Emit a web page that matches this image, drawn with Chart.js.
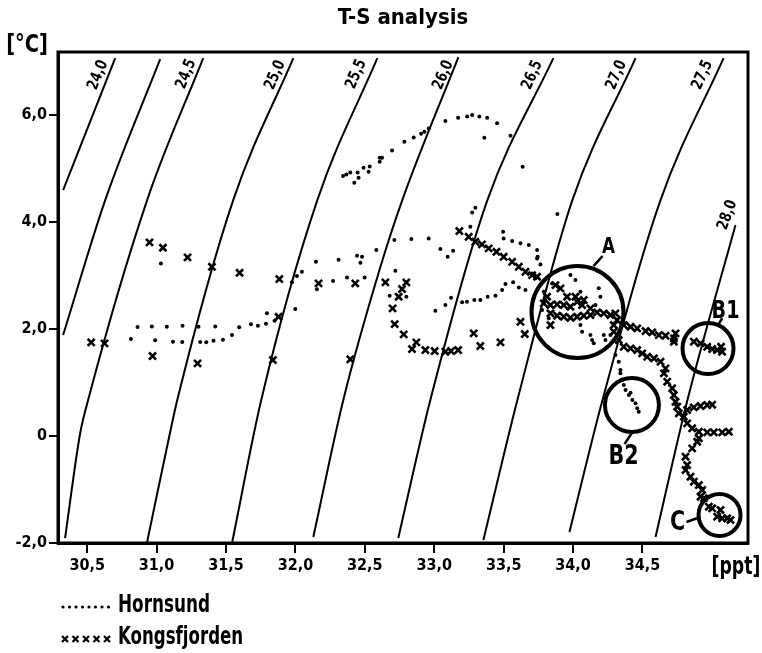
<!DOCTYPE html>
<html>
<head>
<meta charset="utf-8">
<script src="https://cdn.jsdelivr.net/npm/chart.js@4.4.1/dist/chart.umd.min.js"></script>
<style>
html,body{margin:0;padding:0;background:#fff;}
#wrap{width:762px;height:653px;position:relative;}
</style>
</head>
<body>
<div id="wrap"><canvas id="c" width="762" height="653"></canvas></div>
<script>
// ---------- data ----------
const xTickValues = [30.5, 31.0, 31.5, 32.0, 32.5, 33.0, 33.5, 34.0, 34.5];
const yTickValues = [-2, 0, 2, 4, 6];

const hornsundS = [32.343,32.367,32.395,32.424,32.455,32.448,32.491,32.535,32.527,32.607,32.624,32.607,32.696,32.785,32.852,32.905,32.929,32.960,33.080,33.172,33.237,33.273,33.325,33.381,33.453,33.549,33.361,33.637,33.296,33.273,33.496,33.887,
31.031,30.863,30.966,31.074,31.187,31.302,31.423,31.595,31.680,31.730,31.788,31.795,31.850,31.999,30.815,30.990,31.118,31.185,31.314,31.358,31.410,31.478,31.543,31.975,32.011,32.047,32.148,32.311,32.155,32.271,
32.372,32.444,32.480,32.468,32.499,32.583,32.713,32.835,32.960,33.044,33.097,33.136,32.720,32.679,32.799,33.008,33.080,33.121,33.201,33.236,33.289,33.332,33.385,33.441,33.489,33.513,33.568,33.609,33.657,33.500,33.561,33.621,33.681,33.741,33.741,33.260,
33.745,33.765,33.705,33.729,33.981,34.017,34.053,34.185,34.197,34.161,34.053,34.065,34.125,34.137,34.149,34.221,34.233,34.269,33.849,33.789,33.777,33.825,34.305,34.329,34.341,
34.341,34.354,34.365,34.378,34.414,34.402,34.427,34.450,34.462,34.473];
const hornsundT = [4.860,4.892,4.929,4.735,4.828,4.929,5.015,5.041,4.940,5.202,5.202,5.127,5.340,5.501,5.583,5.650,5.688,5.751,5.888,5.950,5.976,6.000,5.976,5.950,5.850,5.613,5.576,5.034,4.267,4.181,3.819,4.150,
3.228,2.037,2.050,2.043,2.062,2.043,2.050,2.032,2.088,2.062,2.099,2.294,2.155,2.374,1.813,1.789,1.763,1.757,1.757,1.751,1.781,1.800,1.888,2.873,2.991,3.071,3.258,3.295,2.742,2.897,
2.966,3.370,3.351,3.239,2.966,3.477,3.664,3.682,3.695,3.495,3.351,3.464,3.090,2.622,2.604,2.342,2.449,2.585,2.499,2.510,2.542,2.542,2.604,2.622,2.729,2.841,2.873,2.779,2.729,3.695,3.645,3.602,3.570,3.477,3.321,3.912,
3.351,3.209,3.041,2.948,3.009,2.916,2.697,2.761,2.604,2.449,2.075,1.950,1.888,1.794,1.733,1.888,1.794,1.888,2.854,2.697,2.355,2.200,1.514,1.389,1.234,
1.172,1.047,0.953,0.860,0.809,0.766,0.673,0.611,0.518,0.454];

const kongsS = [30.949,31.046,31.223,31.399,31.598,31.884,32.167,31.879,30.529,30.625,30.971,31.295,31.838,
33.181,33.248,33.296,33.344,33.392,33.448,33.500,33.561,33.609,33.657,33.705,33.741,
32.431,32.648,32.799,32.768,32.744,32.700,32.715,32.780,32.871,32.840,32.936,33.003,33.080,33.121,33.172,33.284,33.332,33.477,33.621,33.652,32.395,
33.789,33.837,33.885,33.933,33.981,34.029,34.077,34.065,34.125,34.173,34.221,34.269,34.305,34.317,34.293,33.837,33.885,33.933,33.981,34.029,34.077,34.125,33.837,33.909,33.957,34.017,33.813,33.873,
34.365,34.414,34.462,34.522,34.570,34.618,34.666,34.726,34.738,34.726,
34.870,34.918,34.966,35.002,35.038,35.074,35.066,
34.293,34.329,34.365,34.414,34.462,34.498,34.534,34.582,34.630,34.666,
34.654,34.678,34.714,34.726,34.738,34.750,34.762,34.798,34.822,34.870,34.918,34.966,35.002,34.822,34.858,34.906,34.966,35.014,35.074,35.122,34.906,34.894,34.858,34.810,34.822,34.810,34.846,34.870,34.906,34.930,34.918,34.942,
34.978,35.002,35.062,35.038,35.074,35.110,35.134];
const kongsT = [3.621,3.520,3.340,3.164,3.052,2.935,2.854,2.230,1.751,1.733,1.495,1.359,1.421,
3.832,3.725,3.632,3.583,3.508,3.445,3.351,3.258,3.164,3.071,3.009,2.978,
2.854,2.873,2.873,2.748,2.604,2.387,2.093,1.901,1.751,1.626,1.607,1.589,1.576,1.589,1.607,1.920,1.682,1.751,2.136,1.907,1.434,
2.480,2.449,2.462,2.449,2.417,2.510,2.542,2.449,2.387,2.312,2.293,2.262,2.293,2.168,2.075,2.293,2.249,2.230,2.211,2.230,2.249,2.262,2.075,2.761,2.604,2.604,2.604,2.822,
2.075,2.043,2.013,1.963,1.938,1.888,1.875,1.826,1.920,1.763,
1.763,1.733,1.669,1.626,1.607,1.576,1.669,
1.950,1.794,1.669,1.639,1.607,1.546,1.482,1.452,1.389,1.265,
1.172,1.015,0.892,0.766,0.641,0.548,0.424,0.361,0.486,0.536,0.561,0.579,0.585,0.237,0.144,0.080,0.069,0.069,0.069,0.080,-0.043,-0.107,-0.230,-0.387,-0.542,-0.636,-0.761,-0.854,-0.916,-1.009,-1.135,-1.164,
-1.321,-1.351,-1.383,-1.508,-1.538,-1.538,-1.570];

// isopycnals (sigma-t)
const iso240S = [30.327, 30.702];                      const iso240T = [4.598, 7.065];
const iso2425S = [30.327, 30.630, 31.026];             const iso2425T = [1.888, 4.411, 7.047];
const iso245S = [30.341, 30.450, 30.507, 30.932, 31.336]; const iso245T = [-1.907, 0.056, 0.673, 4.411, 7.065];
const iso250S = [30.932, 31.098, 31.149, 31.552, 31.985]; const iso250T = [-1.980, 0.075, 0.673, 4.411, 7.065];
const iso255S = [31.545, 31.754, 32.158, 32.590];      const iso255T = [-1.980, 0.673, 4.411, 7.065];
const iso260S = [32.129, 32.345, 32.612, 32.770, 33.174]; const iso260T = [-1.888, 0.673, 3.159, 4.411, 7.084];
const iso265S = [32.741, 32.972, 33.383, 33.858];      const iso265T = [-1.907, 0.673, 4.411, 7.065];
const iso270S = [33.354, 33.599, 33.995, 34.450];      const iso270T = [-1.944, 0.673, 4.411, 7.065];
const iso275S = [33.974, 34.212, 34.630, 35.084];      const iso275T = [-1.794, 0.673, 4.411, 7.065];
const iso280S = [34.594, 34.824, 35.170];              const iso280T = [-1.888, 0.673, 3.944];

const isoLabels = ['24,0', '24,5', '25,0', '25,5', '26,0', '26,5', '27,0', '27,5', '28,0'];

// ---------- helpers ----------
const FONT = '"DejaVu Sans Condensed", "DejaVu Sans", sans-serif';
const pts = (S, T) => S.map((s, i) => ({x: s, y: T[i]}));
const fmt = v => (Math.abs(v) < 1e-9 ? '0' : v.toFixed(1).replace('.', ','));

const isoCurves = [
  [iso240S, iso240T], [iso2425S, iso2425T], [iso245S, iso245T], [iso250S, iso250T],
  [iso255S, iso255T], [iso260S, iso260T], [iso265S, iso265T], [iso270S, iso270T],
  [iso275S, iso275T], [iso280S, iso280T]
];

const isoDatasets = isoCurves.map(([S, T], i) => ({
  label: 'iso' + i,
  data: pts(S, T),
  showLine: true,
  borderColor: '#000',
  borderWidth: 2,
  pointRadius: 0,
  cubicInterpolationMode: 'monotone',
  fill: false,
  order: 5
}));

const isoLabelPos = [
  {x: 30.579, y: 6.748, r: -68}, {x: 31.214, y: 6.766, r: -68}, {x: 31.855, y: 6.748, r: -67},
  {x: 32.439, y: 6.766, r: -67}, {x: 33.066, y: 6.748, r: -67}, {x: 33.707, y: 6.748, r: -67},
  {x: 34.313, y: 6.748, r: -67}, {x: 34.933, y: 6.748, r: -66}, {x: 35.113, y: 4.131, r: -70}
];

const annotations = [
  {cx: 34.032, cy: 2.318, r: 46, text: 'A',  tx: 34.255, ty: 3.533, size: 22, l: [34.147, 3.178, 34.212, 3.365]},
  {cx: 34.972, cy: 1.636, r: 25.5, text: 'B1', tx: 35.098, ty: 2.336, size: 25, l: [35.045, 2.075, 35.074, 2.206]},
  {cx: 34.424, cy: 0.579, r: 27, text: 'B2', tx: 34.363, ty: -0.393, size: 27, l: [34.428, 0.075, 34.371, -0.150]},
  {cx: 35.055, cy: -1.477, r: 21, text: 'C',  tx: 34.752, ty: -1.626, size: 27, l: [34.817, -1.607, 34.918, -1.514]}
];

// draw text squeezed horizontally (the original face is narrower than any installed one)
function squeezedText(ctx, text, x, y, size, sx, align) {
  ctx.save();
  ctx.font = 'bold ' + size + 'px ' + FONT;
  ctx.textAlign = align || 'center';
  ctx.textBaseline = 'middle';
  ctx.translate(x, y);
  ctx.scale(sx, 1);
  ctx.fillText(text, 0, 0);
  ctx.restore();
}

const overlay = {
  id: 'overlay',
  afterDatasetsDraw(chart) {
    const {ctx, chartArea: a, scales: {x, y}} = chart;
    ctx.save();
    ctx.strokeStyle = '#000';
    ctx.fillStyle = '#000';
    ctx.lineWidth = 3;
    ctx.strokeRect(a.left, a.top, a.right - a.left, a.bottom - a.top);
    // isopycnal labels
    isoLabels.forEach((t, i) => {
      const p = isoLabelPos[i];
      ctx.save();
      ctx.translate(x.getPixelForValue(p.x), y.getPixelForValue(p.y));
      ctx.rotate(p.r * Math.PI / 180);
      squeezedText(ctx, t, 0, 0, 16, 0.85, 'center');
      ctx.restore();
    });
    // circles & labels
    annotations.forEach(an => {
      ctx.lineWidth = 4;
      ctx.beginPath();
      ctx.arc(x.getPixelForValue(an.cx), y.getPixelForValue(an.cy), an.r, 0, Math.PI * 2);
      ctx.stroke();
      ctx.lineWidth = 2.5;
      ctx.beginPath();
      ctx.moveTo(x.getPixelForValue(an.l[0]), y.getPixelForValue(an.l[1]));
      ctx.lineTo(x.getPixelForValue(an.l[2]), y.getPixelForValue(an.l[3]));
      ctx.stroke();
      squeezedText(ctx, an.text, x.getPixelForValue(an.tx), y.getPixelForValue(an.ty), an.size, 0.85, 'center');
    });
    ctx.restore();
  },
  afterDraw(chart) {
    const ctx = chart.ctx;
    ctx.save();
    ctx.fillStyle = '#000';
    ctx.strokeStyle = '#000';
    // units
    squeezedText(ctx, '[°C]', 27, 46, 24, 0.9, 'center');
    squeezedText(ctx, '[ppt]', 736, 568, 24, 0.8, 'center');
    // legend
    for (let i = 0; i < 8; i++) {
      ctx.beginPath();
      ctx.arc(63 + i * 6.5, 607, 1.6, 0, Math.PI * 2);
      ctx.fill();
    }
    squeezedText(ctx, 'Hornsund', 118, 606, 24, 0.78, 'left');
    ctx.lineWidth = 2.2;
    for (let i = 0; i < 5; i++) {
      const cx = 65 + i * 10.5, cy = 639, d = 3;
      ctx.beginPath();
      ctx.moveTo(cx - d, cy - d); ctx.lineTo(cx + d, cy + d);
      ctx.moveTo(cx + d, cy - d); ctx.lineTo(cx - d, cy + d);
      ctx.stroke();
    }
    squeezedText(ctx, 'Kongsfjorden', 118, 638, 24, 0.77, 'left');
    ctx.restore();
  }
};

const tickFont = {family: FONT, size: 16, weight: 'bold'};

new Chart(document.getElementById('c'), {
  type: 'scatter',
  data: {
    datasets: [
      {
        label: 'Hornsund',
        data: pts(hornsundS, hornsundT),
        pointStyle: 'circle',
        pointRadius: 2,
        pointBackgroundColor: '#000',
        pointBorderWidth: 0,
        order: 1
      },
      {
        label: 'Kongsfjorden',
        data: pts(kongsS, kongsT),
        pointStyle: 'crossRot',
        pointRadius: 5,
        pointBorderColor: '#000',
        pointBorderWidth: 2.6,
        order: 2
      },
      ...isoDatasets
    ]
  },
  options: {
    responsive: false,
    animation: false,
    devicePixelRatio: 1,
    layout: {padding: {left: 0, right: 14, top: 0, bottom: 0}},
    plugins: {
      legend: {display: false},
      tooltip: {enabled: false},
      title: {
        display: true,
        text: 'T-S analysis',
        fullSize: false,
        color: '#000',
        font: {family: FONT, size: 22, weight: 'bold', lineHeight: 1.2},
        padding: {top: 5, bottom: 20.6}
      }
    },
    scales: {
      x: {
        type: 'linear',
        min: 30.29,
        max: 35.26,
        afterFit: s => { s.height = 110; },
        afterBuildTicks: s => { s.ticks = xTickValues.map(v => ({value: v})); },
        ticks: {callback: fmt, font: tickFont, color: '#000', padding: 3, maxRotation: 0, autoSkip: false},
        grid: {drawOnChartArea: false, drawTicks: true, tickLength: 10, color: '#000', lineWidth: 2},
        border: {display: true, color: '#000', width: 3}
      },
      y: {
        type: 'linear',
        min: -2,
        max: 7.18,
        afterFit: s => { s.width = 58; },
        afterBuildTicks: s => { s.ticks = yTickValues.map(v => ({value: v})); },
        ticks: {callback: fmt, font: tickFont, color: '#000', padding: 2, autoSkip: false},
        grid: {drawOnChartArea: false, drawTicks: true, tickLength: 9, color: '#000', lineWidth: 2},
        border: {display: true, color: '#000', width: 3}
      }
    }
  },
  plugins: [overlay]
});
</script>
</body>
</html>
